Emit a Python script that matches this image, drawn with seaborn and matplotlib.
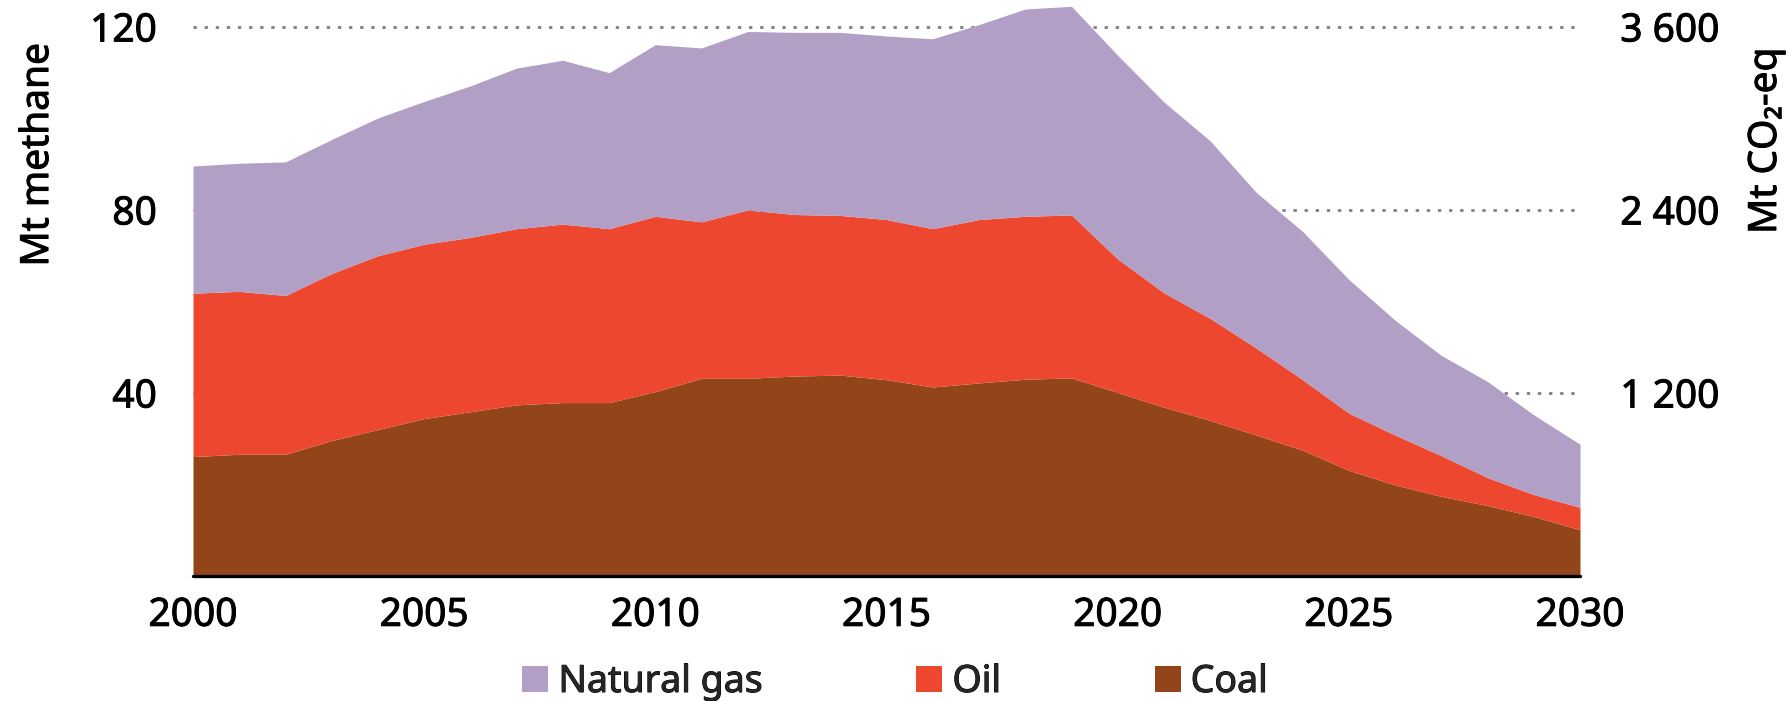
import numpy as np
import pandas as pd
import matplotlib
matplotlib.use("Agg")
import matplotlib.pyplot as plt
from matplotlib.patches import Patch
import matplotlib.patheffects as pe
import seaborn as sns

# ---- data (Mt methane) ----
years = list(range(2000, 2031))
coal = [26.1, 26.6, 26.6, 29.6, 32.0, 34.4, 35.9, 37.4, 37.9, 37.9, 40.3, 43.2, 43.2, 43.7, 43.9, 42.9,
        41.3, 42.2, 43.0, 43.3, 40.1, 36.9, 34.0, 30.8, 27.5, 23.1, 19.9, 17.4, 15.4, 13.0, 10.1]
oil = [35.7, 35.6, 34.7, 36.5, 38.0, 38.1, 38.1, 38.5, 39.0, 38.0, 38.3, 34.2, 36.8, 35.3, 34.9, 35.0,
       34.6, 35.7, 35.6, 35.6, 29.2, 25.0, 22.3, 19.0, 15.4, 12.5, 10.9, 8.9, 6.1, 4.8, 4.9]
gas = [27.8, 28.0, 29.2, 29.3, 30.1, 31.2, 33.1, 35.1, 35.8, 34.1, 37.5, 38.0, 39.0, 39.8, 40.0, 40.1,
       41.5, 42.6, 45.3, 45.6, 44.5, 41.7, 38.8, 34.0, 32.4, 29.2, 25.1, 21.9, 21.0, 17.4, 13.8]
series = ["Natural gas", "Oil", "Coal"]
left_ticks = [40, 80, 120]
right_ticks = [1200, 2400, 3600]
right_labels = ["1 200", "2 400", "3 600"]
co2_factor = 30

df = pd.DataFrame({"year": years, "Coal": coal, "Oil": oil, "Natural gas": gas})

colors = dict(zip(series, sns.color_palette(["#B19FC5", "#EE4730", "#93451A"])))

sns.set_theme(style="white")
plt.rcParams["font.family"] = ["Noto Sans", "DejaVu Sans"]

FS = 28
heavy = [pe.withStroke(linewidth=0.7, foreground="black")]

W, H = 1788, 701
fig = plt.figure(figsize=(W / 100, H / 100), dpi=100)
ax = fig.add_axes([193 / W, 125 / H, 1387 / W, 572 / H])

ax.stackplot(df["year"], df["Coal"], df["Oil"], df["Natural gas"],
             colors=[colors["Coal"], colors["Oil"], colors["Natural gas"]],
             linewidth=0, zorder=2)
ax.set_xlim(2000, 2030)
ax.set_ylim(0, 125)

ax.set_axisbelow(True)
ax.yaxis.grid(True, linestyle=(0, (1.2, 2.8)), color="#808080", linewidth=2.0)
ax.xaxis.grid(False)
for s in ax.spines.values():
    s.set_visible(False)
ax.axhline(0, color="black", linewidth=2.4, zorder=3, clip_on=False)

ax.set_xticks(range(2000, 2031, 5))
ax.set_yticks(left_ticks)
ax.tick_params(axis="x", length=0, pad=15, labelsize=FS, labelcolor="black")
ax.tick_params(axis="y", length=0, pad=26, labelsize=FS, labelcolor="black")
ax.set_ylabel("Mt methane", fontsize=FS, color="black")
ax.yaxis.set_label_coords(-0.098, 0.736)

ax2 = ax.twinx()
ax2.set_ylim(0, 125 * co2_factor)
ax2.set_yticks(right_ticks)
ax2.set_yticklabels(right_labels)
ax2.grid(False)
for s in ax2.spines.values():
    s.set_visible(False)
ax2.tick_params(axis="y", length=0, pad=29, labelsize=FS, labelcolor="black")
ax2.set_ylabel("Mt CO₂-eq", fontsize=FS, color="black")
ax2.yaxis.set_label_coords(1.1204, 0.7606)

handles = [Patch(facecolor=colors[s], edgecolor="none") for s in series]
leg = fig.legend(handles, series, loc="center", bbox_to_anchor=(895 / W, 1 - 682 / H),
                 ncol=3, frameon=False, fontsize=27, handlelength=0.69, handleheight=0.69,
                 handletextpad=0.27, columnspacing=4.1, borderaxespad=0, borderpad=0)

texts = (ax.get_xticklabels() + ax.get_yticklabels() + ax2.get_yticklabels()
         + [ax.yaxis.label, ax2.yaxis.label] + leg.get_texts())
for t in texts:
    t.set_path_effects(heavy)

fig.savefig("out.png", dpi=100)
